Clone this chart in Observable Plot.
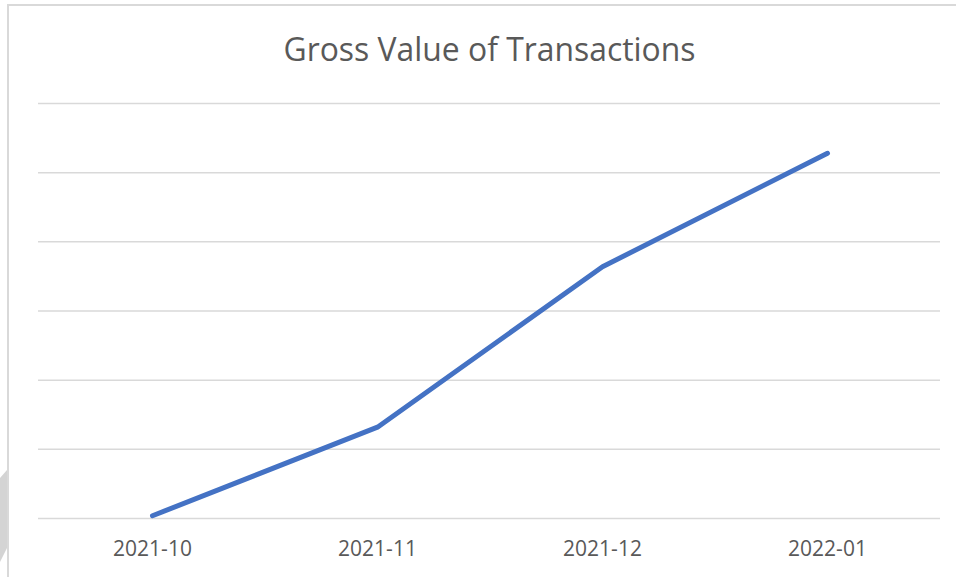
<!DOCTYPE html>
<html>
<head>
<meta charset="utf-8">
<script src="https://cdn.jsdelivr.net/npm/d3@7"></script>
<script src="https://cdn.jsdelivr.net/npm/@observablehq/plot@0.6"></script>
<style>
  html, body { margin: 0; padding: 0; background: #fff; }
  #chart svg { display: block; }
</style>
</head>
<body>
<div id="chart"></div>
<script>
const title = "Gross Value of Transactions";
const months = ["2021-10", "2021-11", "2021-12", "2022-01"];
const values = [0.04, 1.32, 3.64, 5.28];
const gridTicks = [0, 1, 2, 3, 4, 5, 6];

const data = months.map((m, i) => ({month: m, value: values[i]}));

const chart = Plot.plot({
  width: 956,
  height: 577,
  marginLeft: 38,
  marginRight: 16,
  marginTop: 103,
  marginBottom: 59,
  style: {fontFamily: "'Open Sans', sans-serif", color: "#595959", background: "#fff"},
  x: {type: "point", domain: months, padding: 0.5, label: null},
  y: {domain: [0, 6], axis: null},
  marks: [
    Plot.ruleY(gridTicks, {stroke: "#d9d9d9", strokeWidth: 1.5, strokeOpacity: 1}),
    Plot.axisX({tickSize: 0, tickPadding: 23, fontSize: 21, fill: "#595959", label: null}),
    Plot.line(data, {x: "month", y: "value", stroke: "#4472C4", strokeWidth: 5, strokeLinecap: "round", strokeLinejoin: "round"}),
    Plot.text([title], {frameAnchor: "top", dx: 0, dy: -43, lineAnchor: "bottom", fontSize: 33, fill: "#595959", className: "chart-title"})
  ]
});

const svg = d3.select(chart);
svg.selectAll(".chart-title text").attr("textLength", 412).attr("lengthAdjust", "spacingAndGlyphs");
svg.insert("polygon", ":first-child")
  .attr("points", "0,478 7,470 7,548 0,562")
  .attr("fill", "#d4d4d4");
svg.append("path")
  .attr("d", "M8,577 V5 H956")
  .attr("fill", "none")
  .attr("stroke", "#d9d9d9")
  .attr("stroke-width", 2);

document.getElementById("chart").appendChild(chart);
</script>
</body>
</html>
